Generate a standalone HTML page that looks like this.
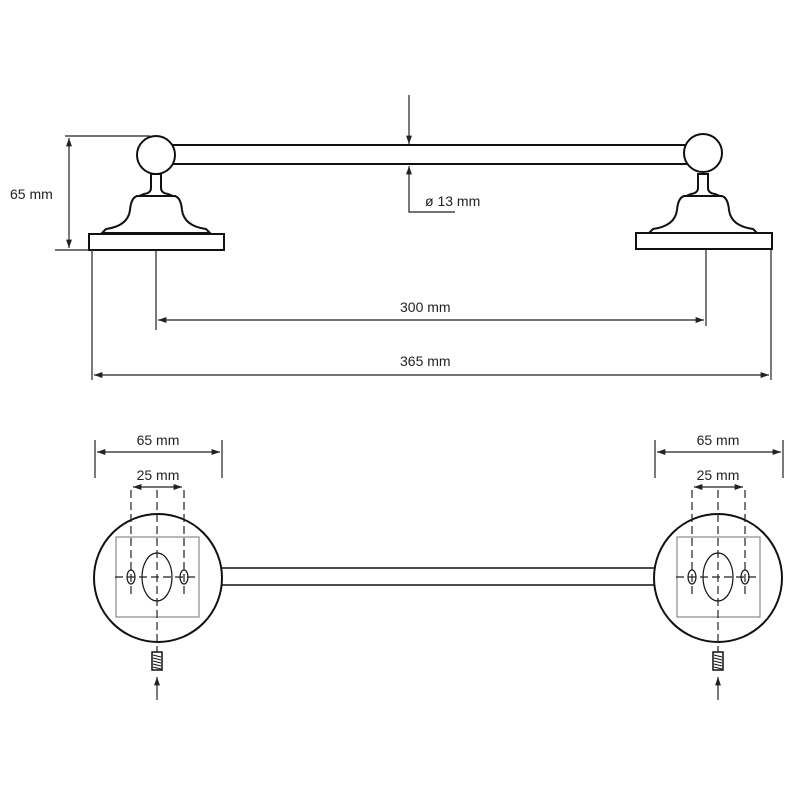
<!DOCTYPE html>
<html><head><style>html,body{margin:0;padding:0;background:#fff}svg{display:block}text{font-family:"Liberation Sans",sans-serif;font-size:14px;fill:#222}</style></head>
<body>
<svg width="800" height="800" viewBox="0 0 800 800" xmlns="http://www.w3.org/2000/svg">
<defs>
<marker id="a" viewBox="0 0 10 10" refX="10" refY="5" markerWidth="7" markerHeight="7" orient="auto-start-reverse"><path d="M0,1.5 L10,5 L0,8.5 z" fill="#222"/></marker>
<g id="bell" fill="#fff" stroke="#111" stroke-width="2">
<path d="M-5,174 L-5,188 Q-5,193 -12,194 L-17,196 L17,196 L12,194 Q5,193 5,188 L5,174 Z"/>
<path d="M-19,196 L19,196 Q25,198 26,210 Q28,226 50,229 L54,233 L-54,233 L-50,229 Q-28,226 -26,210 Q-25,198 -19,196 Z"/>
</g>
</defs>
<g fill="none" stroke="#111" stroke-width="2">
<!-- top view bar -->
<rect x="170" y="145" width="520" height="19" fill="#fff"/>
<!-- left -->
<use href="#bell" x="156" y="0"/>
<circle cx="156" cy="155" r="19" fill="#fff"/>
<rect x="89" y="234" width="135" height="16" fill="#fff"/>
<!-- right -->
<use href="#bell" x="703" y="0"/>
<circle cx="703" cy="153" r="19" fill="#fff"/>
<rect x="636" y="233" width="136" height="16" fill="#fff"/>
</g>
<g stroke="#222" stroke-width="1.2" fill="none">
<line x1="65" y1="136" x2="150" y2="136"/>
<line x1="55" y1="250" x2="89" y2="250"/>
<line x1="69" y1="138" x2="69" y2="248" marker-start="url(#a)" marker-end="url(#a)"/>
<line x1="409" y1="95" x2="409" y2="144" marker-end="url(#a)"/>
<polyline points="455,212 409,212 409,166" marker-end="url(#a)"/>
<line x1="156" y1="250" x2="156" y2="330"/>
<line x1="706" y1="250" x2="706" y2="326"/>
<line x1="158" y1="320" x2="704" y2="320" marker-start="url(#a)" marker-end="url(#a)"/>
<line x1="92" y1="250" x2="92" y2="380"/>
<line x1="771" y1="250" x2="771" y2="380"/>
<line x1="94" y1="375" x2="769" y2="375" marker-start="url(#a)" marker-end="url(#a)"/>
</g>
<text x="10" y="199">65 mm</text>
<text x="425" y="206">ø 13 mm</text>
<text x="400" y="312">300 mm</text>
<text x="400" y="366">365 mm</text>
<!-- bottom view -->
<g stroke="#111" fill="none">
<rect x="221" y="568" width="435" height="17" stroke-width="1.5"/>
<circle cx="158" cy="578" r="64" stroke-width="2" fill="#fff"/>
<circle cx="718" cy="578" r="64" stroke-width="2" fill="#fff"/>
</g>
<g id="plate">
<rect x="116" y="537" width="83" height="80" fill="none" stroke="#888" stroke-width="1.2"/>
<ellipse cx="157" cy="577" rx="15" ry="24" fill="none" stroke="#111" stroke-width="1.2"/>
<ellipse cx="131" cy="577" rx="4" ry="7" fill="none" stroke="#111" stroke-width="1.2"/>
<ellipse cx="184" cy="577" rx="4" ry="7" fill="none" stroke="#111" stroke-width="1.2"/>
<g stroke="#222" stroke-width="1.2" stroke-dasharray="8,4">
<line x1="157" y1="490" x2="157" y2="652"/>
<line x1="131" y1="490" x2="131" y2="598"/>
<line x1="184" y1="490" x2="184" y2="598"/>
<line x1="115" y1="577" x2="199" y2="577"/>
</g>
<rect x="152" y="652" width="10" height="18" fill="#fff" stroke="#111" stroke-width="1.5"/>
<path d="M153,655 L161,657 M153,658 L161,660 M153,661 L161,663 M153,664 L161,666 M153,667 L161,669" stroke="#111" stroke-width="1"/>
<line x1="157" y1="700" x2="157" y2="677" stroke="#222" stroke-width="1.2" marker-end="url(#a)"/>
<line x1="133" y1="487" x2="182" y2="487" stroke="#222" stroke-width="1.2" marker-start="url(#a)" marker-end="url(#a)"/>
</g>
<use href="#plate" x="561" y="0"/>
<g stroke="#222" stroke-width="1.2">
<line x1="95" y1="440" x2="95" y2="478"/><line x1="222" y1="440" x2="222" y2="478"/>
<line x1="97" y1="452" x2="220" y2="452" marker-start="url(#a)" marker-end="url(#a)"/>
<line x1="655" y1="440" x2="655" y2="478"/><line x1="783" y1="440" x2="783" y2="478"/>
<line x1="657" y1="452" x2="781" y2="452" marker-start="url(#a)" marker-end="url(#a)"/>
</g>
<text x="158" y="445" text-anchor="middle">65 mm</text>
<text x="158" y="480" text-anchor="middle">25 mm</text>
<text x="718" y="445" text-anchor="middle">65 mm</text>
<text x="718" y="480" text-anchor="middle">25 mm</text>
</svg>
</body></html>
